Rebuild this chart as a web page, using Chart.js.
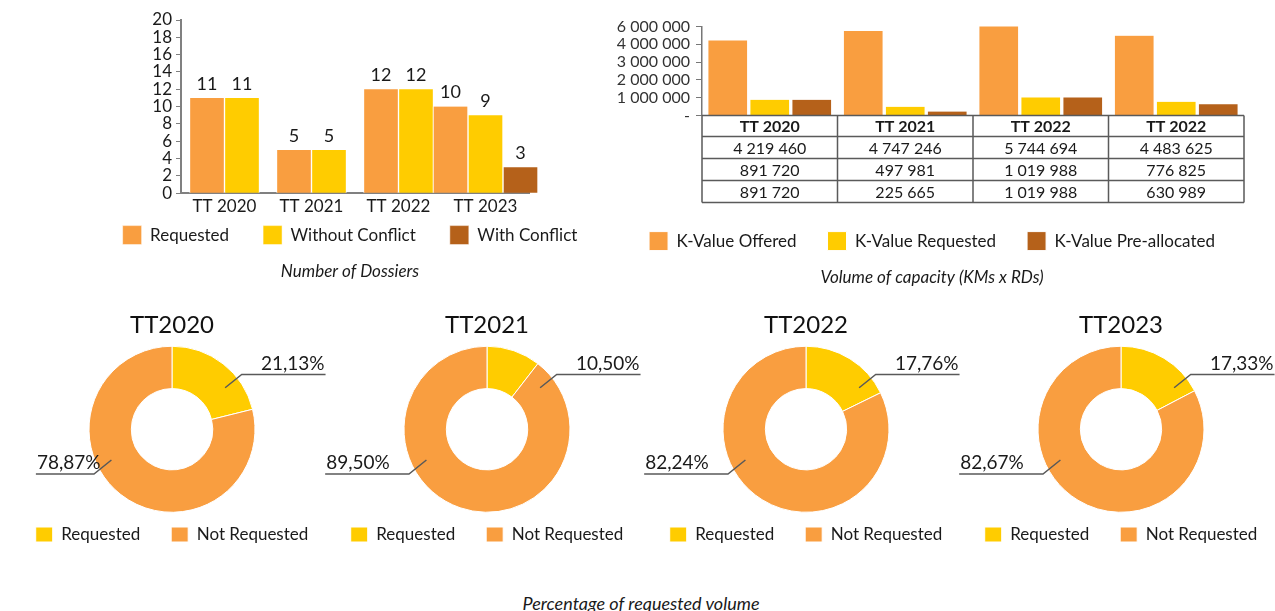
<!DOCTYPE html>
<html>
<head>
<meta charset="utf-8">
<script src="https://cdn.jsdelivr.net/npm/chart.js@4.4.1/dist/chart.umd.min.js"></script>
<style>
  body { margin: 0; width: 1275px; height: 611px; position: relative; overflow: hidden; background: #fff; font-family: Lato, sans-serif; }
  canvas { position: absolute; }
  #caption { position: absolute; left: 0; width: 1282px; top: 592px; text-align: center; font-style: italic; font-size: 18px; color: #1a1a1a; }
</style>
</head>
<body>
<canvas id="dossiers" width="540" height="310" style="left:80px;top:0"></canvas>
<canvas id="capacity" width="664" height="288" style="left:600px;top:0"></canvas>
<canvas id="d0" width="360" height="253" style="left:-8px;top:300px"></canvas>
<canvas id="d1" width="360" height="253" style="left:307px;top:300px"></canvas>
<canvas id="d2" width="360" height="253" style="left:626px;top:300px"></canvas>
<canvas id="d3" width="360" height="253" style="left:941px;top:300px"></canvas>
<div id="caption">Percentage of requested volume</div>
<script>
// --- data ---
const years = ['TT 2020', 'TT 2021', 'TT 2022', 'TT 2023'];
const requestedDossiers = [11, 5, 12, 10];
const withoutConflict = [11, 5, 12, 9];
const withConflict = [null, null, null, 3];

const capacityYears = ['TT 2020', 'TT 2021', 'TT 2022', 'TT 2022'];
const kOffered = [4219460, 4747246, 5744694, 4483625];
const kRequested = [891720, 497981, 1019988, 776825];
const kPreallocated = [891720, 225665, 1019988, 630989];
const capacityTickLabels = ['-', '1 000 000', '2 000 000', '3 000 000', '4 000 000', '6 000 000'];

const donutTitles = ['TT2020', 'TT2021', 'TT2022', 'TT2023'];
const pctRequested = [21.13, 10.50, 17.76, 17.33];
const pctNotRequested = [78.87, 89.50, 82.24, 82.67];

const ORANGE = '#F99E40', YELLOW = '#FFCC00', BROWN = '#B5611A';
const INK = '#1a1a1a', AXIS = '#808080';
const FONT = 'Lato';

const spaced = n => String(n).replace(/\B(?=(\d{3})+(?!\d))/g, ' ');
const pct = v => v.toFixed(2).replace('.', ',') + '%';

// value labels above bars
const barValues = {
  id: 'barValues',
  afterDatasetsDraw(chart) {
    const ctx = chart.ctx;
    ctx.save();
    ctx.font = '18px ' + FONT;
    ctx.fillStyle = INK;
    ctx.textAlign = 'center';
    ctx.textBaseline = 'bottom';
    chart.data.datasets.forEach((ds, i) => {
      chart.getDatasetMeta(i).data.forEach((bar, j) => {
        if (ds.data[j] == null) return;
        ctx.fillText(ds.data[j], bar.x, bar.y - 5);
      });
    });
    ctx.restore();
  }
};

// pull legend + title up a bit (legend padding is also the item spacing)
const liftBottom = {
  id: 'liftBottom',
  afterLayout(chart, args, opts) {
    [chart.legend, chart.titleBlock].forEach(b => {
      b.top -= opts.by; b.bottom -= opts.by;
    });
  }
};

// data table under the capacity chart
const dataTable = {
  id: 'dataTable',
  afterDraw(chart) {
    const ctx = chart.ctx, a = chart.chartArea, x = chart.scales.x;
    const n = chart.data.labels.length;
    const colW = (a.right - a.left) / n;
    const headH = 21, rowH = 22;
    const top = a.bottom;
    const bottom = top + headH + rowH * chart.data.datasets.length;
    ctx.save();
    ctx.strokeStyle = '#5a5a5a';
    ctx.lineWidth = 1.5;
    ctx.beginPath();
    [top, top + headH].concat(chart.data.datasets.map((d, i) => top + headH + rowH * (i + 1))).forEach(yy => {
      ctx.moveTo(a.left, yy); ctx.lineTo(a.right, yy);
    });
    for (let i = 0; i <= n; i++) {
      const xx = a.left + colW * i;
      ctx.moveTo(xx, top); ctx.lineTo(xx, bottom);
    }
    ctx.stroke();
    ctx.fillStyle = INK;
    ctx.textAlign = 'center';
    ctx.textBaseline = 'middle';
    chart.data.labels.forEach((lab, i) => {
      const cx = x.getPixelForValue(i);
      ctx.font = 'bold 16px ' + FONT;
      ctx.fillText(lab, cx, top + headH / 2 + 1);
      ctx.font = '16px ' + FONT;
      chart.data.datasets.forEach((ds, r) => {
        ctx.fillText(spaced(ds.data[i]), cx, top + headH + rowH * r + rowH / 2 + 1);
      });
    });
    ctx.restore();
  }
};

// leader-line labels on the doughnuts
const callouts = {
  id: 'callouts',
  afterDatasetsDraw(chart, args, opts) {
    const arc = chart.getDatasetMeta(0).data[0];
    const cx = arc.x, cy = arc.y, r = arc.outerRadius;
    const vals = chart.data.datasets[0].data;
    const ctx = chart.ctx;
    ctx.save();
    ctx.strokeStyle = '#595959';
    ctx.lineWidth = 1.5;
    ctx.fillStyle = INK;
    ctx.font = '19px ' + FONT;
    ctx.textBaseline = 'alphabetic';
    // right
    const ry = cy - r * 0.66, rEnd = cx + r * 1.85;
    ctx.beginPath();
    ctx.moveTo(cx + r * 0.64, cy - r * 0.5);
    ctx.lineTo(cx + r * 0.84, ry);
    ctx.lineTo(rEnd, ry);
    ctx.stroke();
    ctx.textAlign = 'right';
    ctx.fillText(pct(vals[0]), rEnd - 1, ry - 4);
    // left
    const ly = cy + r * 0.54, lEnd = cx - r * opts.reach;
    ctx.beginPath();
    ctx.moveTo(cx - r * 0.73, cy + r * 0.37);
    ctx.lineTo(cx - r * 0.94, ly);
    ctx.lineTo(lEnd, ly);
    ctx.stroke();
    ctx.textAlign = 'left';
    ctx.fillText(pct(vals[1]), lEnd + 1, ly - 5);
    ctx.restore();
  }
};

const legendLabels = (box, h, pad) => ({
  color: INK, font: { family: FONT, size: 17 }, boxWidth: box, boxHeight: h, padding: pad
});
const bottomTitle = (text, top) => ({
  display: true, text, position: 'bottom', color: INK,
  font: { family: FONT, size: 17, style: 'italic', weight: 'normal' },
  padding: { top, bottom: 0 }
});
const spacerAxis = w => ({
  position: 'right',
  grid: { display: false, drawTicks: false },
  border: { display: false },
  ticks: { display: false },
  afterFit: s => { s.width = w; }
});

// --- Number of Dossiers ---
new Chart(document.getElementById('dossiers'), {
  type: 'bar',
  data: {
    labels: years,
    datasets: [
      { label: 'Requested', data: requestedDossiers, backgroundColor: ORANGE, clip: false },
      { label: 'Without Conflict', data: withoutConflict, backgroundColor: YELLOW, clip: false },
      { label: 'With Conflict', data: withConflict, backgroundColor: BROWN, clip: false }
    ]
  },
  options: {
    responsive: false,
    animation: false,
    skipNull: true,
    barThickness: 35,
    borderColor: '#fff',
    borderWidth: { left: 1, right: 1, top: 0, bottom: 0 },
    borderSkipped: false,
    layout: { padding: { top: 20, right: 0, left: 0, bottom: 0 } },
    scales: {
      x: {
        grid: { display: false, drawTicks: false },
        border: { display: true, color: AXIS, width: 2 },
        ticks: { color: INK, font: { family: FONT, size: 17 }, padding: 3 }
      },
      y: {
        min: 0, max: 20,
        grid: { drawOnChartArea: false, drawTicks: true, tickLength: 5, color: AXIS },
        border: { display: true, color: AXIS, width: 2 },
        ticks: { stepSize: 2, autoSkip: false, color: INK, padding: 4, font: { family: FONT, size: 17, lineHeight: 1 } },
        afterFit: s => { s.width = 101; }
      },
      spacer: spacerAxis(91)
    },
    plugins: {
      legend: { position: 'bottom', labels: legendLabels(19, 19, 34) },
      title: bottomTitle('Number of Dossiers', 7),
      tooltip: { enabled: false },
      liftBottom: { by: 28 }
    }
  },
  plugins: [barValues, liftBottom]
});

// --- Volume of capacity ---
new Chart(document.getElementById('capacity'), {
  type: 'bar',
  data: {
    labels: capacityYears,
    datasets: [
      { label: 'K-Value Offered', data: kOffered, backgroundColor: ORANGE, clip: 0 },
      { label: 'K-Value Requested', data: kRequested, backgroundColor: YELLOW, clip: 0 },
      { label: 'K-Value Pre-allocated', data: kPreallocated, backgroundColor: BROWN, clip: 0 }
    ]
  },
  options: {
    responsive: false,
    animation: false,
    barThickness: 42,
    borderColor: '#fff',
    borderWidth: { left: 2, right: 2, top: 0, bottom: 0 },
    borderSkipped: false,
    layout: { padding: { top: 26.5, right: 0, left: 0, bottom: 0 } },
    scales: {
      x: {
        grid: { display: false, drawTicks: false },
        border: { display: false },
        ticks: { display: false },
        afterFit: s => { s.height = 85; }
      },
      y: {
        min: 0, max: 5000000,
        grid: { drawOnChartArea: false, drawTicks: true, tickLength: 6, color: '#777' },
        border: { display: true, color: '#777', width: 1.5 },
        ticks: {
          stepSize: 1000000, autoSkip: false, color: '#333', padding: 6,
          font: { family: FONT, size: 16, lineHeight: 1 },
          callback: v => capacityTickLabels[Math.round(v / 1000000)]
        },
        afterFit: s => { s.width = 102; }
      },
      spacer: spacerAxis(20)
    },
    plugins: {
      legend: { position: 'bottom', labels: legendLabels(19, 19, 31) },
      title: bottomTitle('Volume of capacity (KMs x RDs)', 7),
      tooltip: { enabled: false }
    }
  },
  plugins: [dataTable]
});

// --- Percentage of requested volume ---
donutTitles.forEach((t, i) => {
  new Chart(document.getElementById('d' + i), {
    type: 'doughnut',
    data: {
      labels: ['Requested', 'Not Requested'],
      datasets: [{
        data: [pctRequested[i], pctNotRequested[i]],
        backgroundColor: [YELLOW, ORANGE],
        borderColor: '#fff',
        borderWidth: 1
      }]
    },
    options: {
      responsive: false,
      animation: false,
      radius: 83,
      cutout: '49%',
      plugins: {
        legend: { position: 'bottom', labels: legendLabels(17, 15, 31) },
        title: {
          display: true, text: t, position: 'top', color: '#111',
          font: { family: FONT, size: 24, weight: 'normal' },
          padding: { top: 10.6, bottom: 24.1 }
        },
        tooltip: { enabled: false },
        callouts: { reach: i === 0 ? 1.64 : 1.95 }
      }
    },
    plugins: [callouts]
  });
});
</script>
</body>
</html>
